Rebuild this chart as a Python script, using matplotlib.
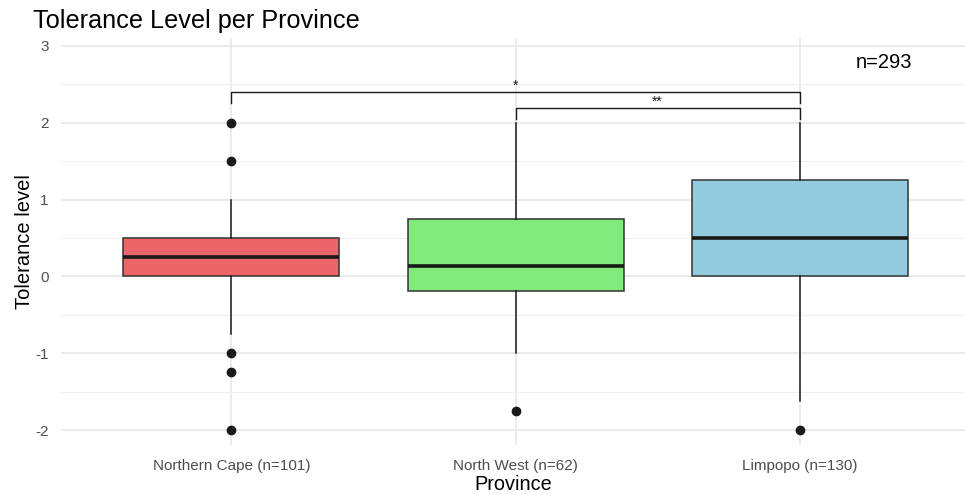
import matplotlib.pyplot as plt
from matplotlib.ticker import MultipleLocator

plt.rcParams['font.family'] = ['Liberation Sans', 'DejaVu Sans']
plt.rcParams['axes.unicode_minus'] = False

# box statistics
provinces = ['Northern Cape (n=101)', 'North West (n=62)', 'Limpopo (n=130)']
q1 = [0.0, -0.19, 0.0]
medians = [0.25, 0.13, 0.5]
q3 = [0.5, 0.75, 1.25]
whislo = [-0.75, -1.0, -1.62]
whishi = [1.0, 2.0, 2.0]
outliers = [[2.0, 1.5, -1.0, -1.25, -2.0], [-1.75], [-2.0]]
colors = ['#EB6569', '#80EA7B', '#93CBDE']

# significance brackets: (from, to, height, label)
brackets = [(1, 3, 2.40, '*'), (2, 3, 2.19, '**')]
n_total = 'n=293'

fig = plt.figure(figsize=(9.65, 4.95), dpi=100)
ax = fig.add_axes([0.0632, 0.1002, 0.9363, 0.8224])

stats = []
for i in range(len(provinces)):
    stats.append({'q1': q1[i], 'med': medians[i], 'q3': q3[i],
                  'whislo': whislo[i], 'whishi': whishi[i],
                  'fliers': outliers[i], 'label': provinces[i]})

pos = [1, 2, 3]
bp = ax.bxp(stats, positions=pos, widths=0.76, patch_artist=True,
            showcaps=False,
            boxprops=dict(edgecolor='#333333', linewidth=1.1),
            medianprops=dict(color='#1a1a1a', linewidth=2.6),
            whiskerprops=dict(color='#1a1a1a', linewidth=1.1),
            flierprops=dict(marker='o', markerfacecolor='#1a1a1a',
                            markeredgecolor='#1a1a1a', markersize=6))
for patch, c in zip(bp['boxes'], colors):
    patch.set_facecolor(c)
for b in bp['boxes'] + bp['medians'] + bp['whiskers'] + bp['fliers']:
    b.set_zorder(3)

leg = 0.14
for a, b, h, lab in brackets:
    ax.plot([a, a, b, b], [h - leg, h, h, h - leg], color='#1a1a1a', lw=1.0, zorder=4)
    ax.text((a + b) / 2, h - 0.01, lab, ha='center', va='bottom', fontsize=10, color='#1a1a1a')

ax.text(3.295, 2.78, n_total, ha='center', va='center', fontsize=14.5, color='black')

ax.set_xlim(0.4, 3.58)
ax.set_ylim(-2.2, 3.1)
ax.yaxis.set_major_locator(MultipleLocator(1))
ax.yaxis.set_minor_locator(MultipleLocator(0.5))
ax.set_xticks(pos)
ax.set_xticklabels(provinces)

ax.grid(True, which='major', color='#e6e6e6', lw=1.1, zorder=0)
ax.grid(True, which='minor', axis='y', color='#f0f0f0', lw=0.8, zorder=0)
ax.set_axisbelow(True)
for s in ax.spines.values():
    s.set_visible(False)
ax.tick_params(which='both', length=0, labelsize=11, labelcolor='#4d4d4d')
ax.tick_params(axis='x', pad=10)
ax.tick_params(axis='y', pad=9)

ax.set_xlabel('Province', fontsize=14.3, labelpad=1)
ax.set_ylabel('Tolerance level', fontsize=14.5, labelpad=1)
fig.text(0.034, 0.957, 'Tolerance Level per Province', fontsize=18.2, ha='left', va='center')

fig.savefig('out.png', dpi=100, facecolor='white')
